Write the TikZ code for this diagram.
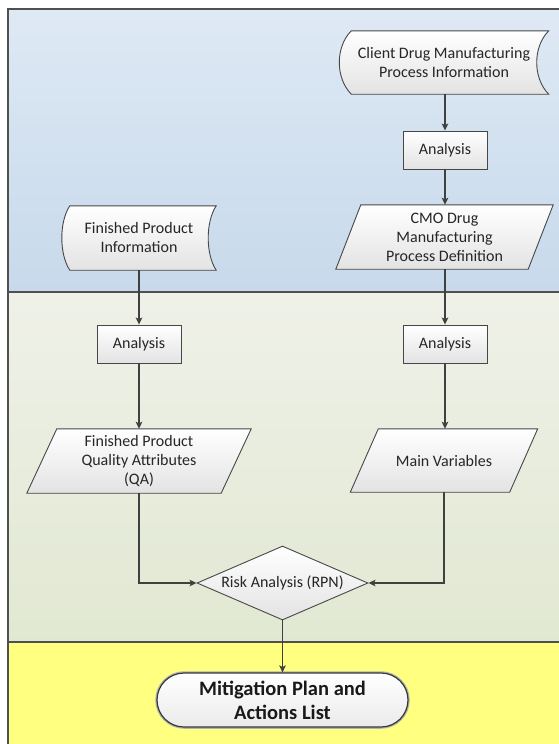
\documentclass[tikz,border=0pt]{standalone}
\usepackage{fontspec}
\setmainfont{Carlito}
\usetikzlibrary{shapes.geometric,arrows.meta,calc}

\definecolor{blueTop}{RGB}{222,233,244}
\definecolor{blueBot}{RGB}{199,217,235}
\definecolor{greenTop}{RGB}{239,241,232}
\definecolor{greenBot}{RGB}{225,232,210}
\definecolor{laneYellow}{RGB}{255,255,128}
\definecolor{edgeGray}{RGB}{64,64,64}
\definecolor{frameGray}{RGB}{80,80,80}

\pgfdeclarelayer{lanes}
\pgfdeclarelayer{shapes}
\pgfsetlayers{lanes,shapes,main}

\tikzset{
  lbl/.style={font=\fontsize{16}{19}\selectfont, align=center, text=black!85, inner sep=0pt},
  fillshade/.style={top color=white, bottom color=black!11, draw=black!72, line width=0.9pt},
  holder/.style={lbl, rectangle, minimum width=#1},
  procbox/.style={lbl, rectangle, fillshade, minimum width=84pt, minimum height=38pt},
  decision/.style={lbl, diamond, fillshade, aspect=2.31, minimum width=171pt, minimum height=74pt},
  terminal/.style={font=\fontsize{20.5}{24}\selectfont\bfseries, align=center, text=black!90,
    rectangle, rounded corners=27pt, minimum width=251pt, minimum height=54pt, inner sep=0pt,
    top color=white, bottom color=black!8, draw=black!78, line width=1.2pt,
    preaction={draw=black!30, line width=3.5pt}},
  conn/.style={draw=edgeGray, line width=1.3pt, -{Stealth[length=7pt,width=6.5pt,inset=1.5pt]}},
  lane/.style={draw=frameGray, line width=1.5pt},
  frame/.style={draw=frameGray, line width=2pt}
}

% parallelogram (data) drawn behind a text holder: name, slant
\newcommand\dataShape[2]{%
  \path[fillshade] ($(#1.north west)+(#2,0)$) -- (#1.north east)
    -- ($(#1.south east)-(#2,0)$) -- (#1.south west) -- cycle;}

% stored-data outline drawn behind a text holder: name, bulge
\newcommand\storedShape[2]{%
  \path[fillshade] ($(#1.north west)+(#2,0)$) -- (#1.north east)
    .. controls ($(#1.north east)+({-4/3*#2},16)$) and ($(#1.south east)+({-4/3*#2},-16)$) .. (#1.south east)
    -- ($(#1.south west)+(#2,0)$)
    .. controls ($(#1.south west)+({-#2/3},-16)$) and ($(#1.north west)+({-#2/3},16)$) .. ($(#1.north west)+(#2,0)$)
    -- cycle;}

\begin{document}
\begin{tikzpicture}[x=1pt,y=-1pt]
  \useasboundingbox (0,0) rectangle (559,744);
  \clip (0,0) rectangle (559,744);

  % swimlanes
  \begin{pgfonlayer}{lanes}
    \fill[white] (0,0) rectangle (559,744);
    \path[top color=blueTop, bottom color=blueBot] (8,9) rectangle (575,292);
    \path[top color=greenTop, bottom color=greenBot] (8,292) rectangle (575,642);
    \fill[laneYellow] (8,642) rectangle (575,760);
    \draw[lane] (8,292) -- (575,292);
    \draw[lane] (8,642) -- (575,642);
    \draw[frame] (8,760) -- (8,9) -- (575,9);
  \end{pgfonlayer}

  % nodes
  \node[holder=209pt, minimum height=63pt] (client) at (444,62.5)
    {Client Drug Manufacturing\\Process Information};
  \node[procbox] (anaTop) at (445,150) {Analysis};
  \node[holder=217pt, minimum height=64pt] (cmo) at (444.5,237)
    {CMO Drug\\Manufacturing\\Process Definition};
  \node[holder=154pt, minimum height=64pt] (fpInfo) at (139,238)
    {Finished Product\\Information};
  \node[procbox] (anaLeft) at (139,344) {Analysis};
  \node[procbox] (anaRight) at (445,344) {Analysis};
  \node[holder=224pt, minimum height=64pt] (fpqa) at (139,461)
    {Finished Product\\Quality Attributes\\(QA)};
  \node[holder=187pt, minimum height=63pt] (mainVar) at (444,460.5) {Main Variables};
  \node[decision] (risk) at (282.5,583) {Risk Analysis (RPN)};
  \node[terminal] (plan) at (282.5,700) {Mitigation Plan and\\Actions List};

  % outlines of data and stored-data symbols
  \begin{pgfonlayer}{shapes}
    \storedShape{client}{12}
    \storedShape{fpInfo}{8}
    \dataShape{cmo}{25}
    \dataShape{fpqa}{30}
    \dataShape{mainVar}{28}
  \end{pgfonlayer}

  % connectors
  \draw[conn] (client.south -| anaTop) -- (anaTop.north);
  \draw[conn] (anaTop.south) -- (anaTop.south |- cmo.north);
  \draw[conn] (cmo.south -| anaRight) -- (anaRight.north);
  \draw[conn] (anaRight.south) -- (anaRight.south |- mainVar.north);
  \draw[conn] (fpInfo.south) -- (anaLeft.north);
  \draw[conn] (anaLeft.south) -- (fpqa.north);
  \draw[conn] (fpqa.south) |- (risk.west);
  \draw[conn] (mainVar.south) |- (risk.east);
  \draw[conn] (risk.south) -- (plan.north);
\end{tikzpicture}
\end{document}
